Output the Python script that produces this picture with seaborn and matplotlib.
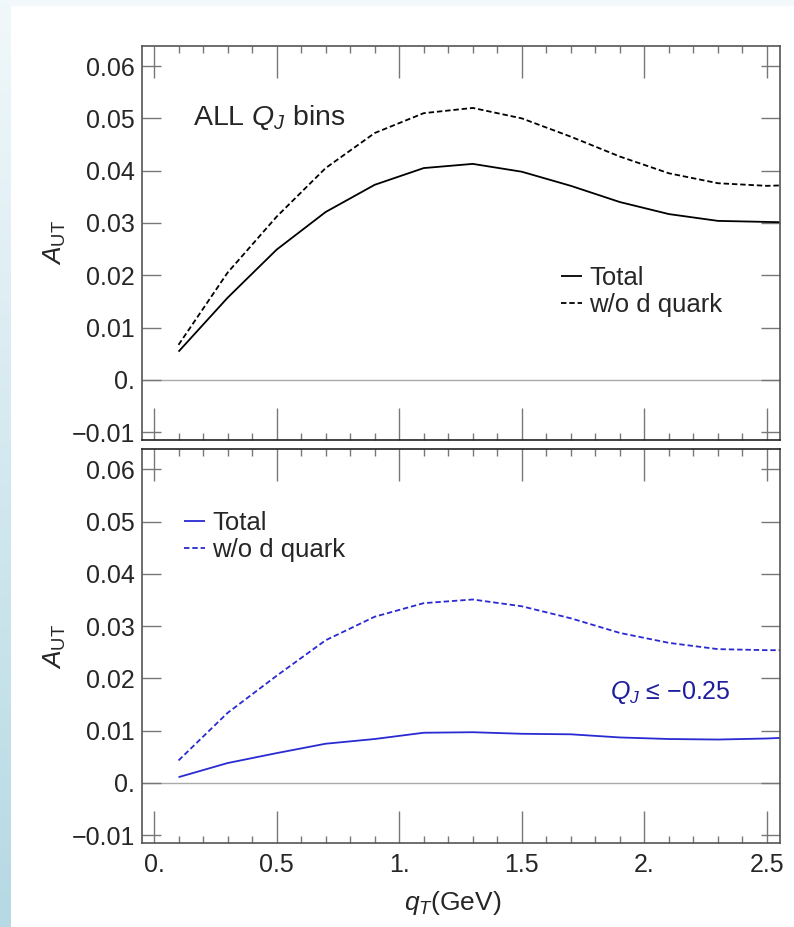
import matplotlib
matplotlib.use("Agg")
import matplotlib.pyplot as plt
import numpy as np
import seaborn as sns
import pandas as pd
from matplotlib.ticker import MultipleLocator

# values
qT = [0.1, 0.3, 0.5, 0.7, 0.9, 1.1, 1.3, 1.5, 1.7, 1.9, 2.1, 2.3, 2.5, 2.7]
all_total = [0.0054, 0.0157, 0.0249, 0.0321, 0.0373, 0.0405, 0.0413, 0.0398,
             0.0371, 0.0340, 0.0317, 0.0304, 0.0302, 0.0300]
all_wod = [0.0067, 0.0205, 0.0312, 0.0405, 0.0472, 0.0510, 0.0520, 0.0500,
           0.0465, 0.0427, 0.0395, 0.0376, 0.0371, 0.0374]
neg_total = [0.0011, 0.0038, 0.0057, 0.0075, 0.0084, 0.0096, 0.0097, 0.0094,
             0.0093, 0.0087, 0.0084, 0.0083, 0.0085, 0.0089]
neg_wod = [0.0043, 0.0134, 0.0205, 0.0273, 0.0318, 0.0344, 0.0351, 0.0338,
           0.0315, 0.0287, 0.0268, 0.0256, 0.0254, 0.0254]

xticks = [0, 0.5, 1.0, 1.5, 2.0, 2.5]
xlabels = ["0.", "0.5", "1.", "1.5", "2.", "2.5"]
yticks = [-0.01, 0, 0.01, 0.02, 0.03, 0.04, 0.05, 0.06]
ylabels = ["\u22120.01", "0.", "0.01", "0.02", "0.03", "0.04", "0.05", "0.06"]

sns.set_style("ticks")
plt.rcParams['font.family'] = ['Liberation Sans', 'DejaVu Sans']
plt.rcParams['mathtext.fontset'] = 'custom'
plt.rcParams['mathtext.rm'] = 'Liberation Sans'
plt.rcParams['mathtext.it'] = 'Liberation Sans:italic'

blue = "#2a2ad2"
blue_txt = "#1d1d9e"
frame = "#555555"

fig = plt.figure(figsize=(7.94, 9.27), dpi=100)

# light slide background strips
bg = fig.add_axes([0, 0, 11 / 794, 1], zorder=-5)
grad = np.linspace(0, 1, 256).reshape(-1, 1)
bg.imshow(grad, aspect='auto', cmap=matplotlib.colors.LinearSegmentedColormap.from_list(
    "bgc", ["#f1f8fb", "#b6d9e3"]), extent=[0, 1, 0, 1], origin='upper')
bg.axis('off')
fig.patches.append(plt.Rectangle((0, 1 - 5 / 927), 1, 5 / 927, transform=fig.transFigure,
                                 color="#f3f9fb", zorder=-6))

ax1 = fig.add_axes([142 / 794, 1 - 440 / 927, 638 / 794, 394.3 / 927])
ax2 = fig.add_axes([142 / 794, 1 - 843 / 927, 638 / 794, 394 / 927])

df1 = pd.DataFrame({"qT": qT * 2, "A": all_total + all_wod,
                    "curve": ["Total"] * len(qT) + ["w/o d quark"] * len(qT)})
df2 = pd.DataFrame({"qT": qT * 2, "A": neg_total + neg_wod,
                    "curve": ["Total"] * len(qT) + ["w/o d quark"] * len(qT)})

sns.lineplot(data=df1, x="qT", y="A", hue="curve", style="curve",
             palette=["black", "black"], dashes=[(1, 0), (3, 1.6)],
             linewidth=1.3, ax=ax1)
sns.lineplot(data=df2, x="qT", y="A", hue="curve", style="curve",
             palette=[blue, blue], dashes=[(1, 0), (3, 1.6)],
             linewidth=1.3, ax=ax2)

for ax in (ax1, ax2):
    ax.axhline(0, color="#aaaaaa", lw=1, zorder=0)
    ax.set_xlim(-0.049, 2.553)
    ax.set_ylim(-0.0115, 0.0639)
    ax.set_xticks(xticks)
    ax.xaxis.set_minor_locator(MultipleLocator(0.1))
    ax.set_yticks(yticks)
    ax.set_yticklabels(ylabels)
    ax.tick_params(axis='x', which='major', direction='in', length=23, width=1,
                   top=True, bottom=True, color="#777777", labelsize=18, pad=7)
    ax.tick_params(axis='x', which='minor', direction='in', length=5, width=1,
                   top=True, bottom=True, color="#777777")
    ax.tick_params(axis='y', which='major', direction='in', length=13.7, width=1,
                   left=True, right=True, color="#777777", labelsize=18, pad=5)
    for s in ax.spines.values():
        s.set_color(frame)
        s.set_linewidth(1.2)
    ax.set_ylabel("$A_{\\mathrm{UT}}$", fontsize=19)
    ax.yaxis.set_label_coords(-0.116, 0.5)

ax1.spines['bottom'].set_color("#222222")
ax2.spines['top'].set_color("#222222")

ax1.set_xticklabels([])
ax1.set_xlabel("")
ax2.set_xticklabels(xlabels)
ax2.set_xlabel("$q_T$(GeV)", fontsize=19)
ax2.xaxis.set_label_coords(0.487, -0.117)

leg1 = ax1.legend(loc='upper left', bbox_to_anchor=(0.657, 0.442), frameon=False,
                  fontsize=18.5, handlelength=0.8, handletextpad=0.3,
                  labelspacing=0.12, borderpad=0, borderaxespad=0)
leg2 = ax2.legend(loc='upper left', bbox_to_anchor=(0.066, 0.843), frameon=False,
                  fontsize=18.5, handlelength=0.8, handletextpad=0.3,
                  labelspacing=0.12, borderpad=0, borderaxespad=0)
for leg in (leg1, leg2):
    for h in leg.get_lines():
        h.set_linewidth(1.3)

ax1.text(0.08, 0.819, "ALL $Q_J$ bins", transform=ax1.transAxes, fontsize=20.5,
         va='center', ha='left')
ax2.text(0.733, 0.383, "$Q_J$ \u2264 \u22120.25", transform=ax2.transAxes,
         fontsize=18, va='center', ha='left', color=blue_txt)

fig.savefig("out.png", dpi=100)
